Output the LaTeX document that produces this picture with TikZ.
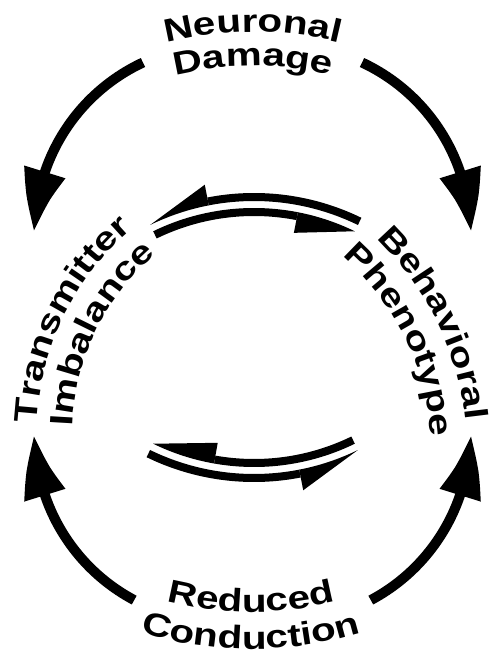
\documentclass[tikz,border=0pt]{standalone}
\usepackage{fontspec}
\newfontfamily\labelfont[FakeStretch=1.25]{Liberation Sans}
\newcommand\lbl{\labelfont\bfseries\fontsize{23}{27}\selectfont}
\usetikzlibrary{decorations.text,arrows.meta,bending}

\begin{document}
\begin{tikzpicture}[x=0.025cm,y=0.025cm,
  curved/.style={decorate,decoration={text along path,text={|\lbl|#1},text align=center}},
  bigarrow/.style={line width=0.25cm,-{Triangle[length=1.55cm,width=1cm,bend]}},
  pairline/.style={line width=0.2cm}]
\useasboundingbox (0,0) rectangle (490,654);
% centres of the text arcs
\coordinate (top) at (253,262);
\coordinate (bottom) at (251,380);
\coordinate (left) at (308,219);
\coordinate (right) at (172,203);
% labels
\path[curved=Neuronal] (top) ++(130:360) arc[start angle=130,end angle=50,radius=360];
\path[curved=Damage] (top) ++(130:326) arc[start angle=130,end angle=50,radius=326];
\path[curved=Transmitter] (left) ++(194:271) arc[start angle=194,end angle=114,radius=271];
\path[curved=Imbalance] (left) ++(194:236) arc[start angle=194,end angle=114,radius=236];
\path[curved=Behavioral] (right) ++(66:295) arc[start angle=66,end angle=-14,radius=295];
\path[curved=Phenotype] (right) ++(66:259) arc[start angle=66,end angle=-14,radius=259];
\path[curved=Reduced] (bottom) ++(230:338) arc[start angle=230,end angle=310,radius=338];
\path[curved=Conduction] (bottom) ++(230:375) arc[start angle=230,end angle=310,radius=375];
% outer arrows
\coordinate (ul) at (222,422);
\coordinate (ur) at (283,422);
\coordinate (ll) at (222,219);
\coordinate (lr) at (283,219);
\draw[bigarrow] (ul) ++(115:187) arc[start angle=115,end angle=180,radius=187];
\draw[bigarrow] (ur) ++(65:187) arc[start angle=65,end angle=0,radius=187];
\draw[bigarrow] (ll) ++(242:187) arc[start angle=242,end angle=180,radius=187];
\draw[bigarrow] (lr) ++(298:187) arc[start angle=298,end angle=360,radius=187];
% upper pair of half arrows
\begin{scope}[shift={(254,216)}]
  \draw[pairline] (64:241) arc[start angle=64,end angle=101,radius=241];
  \fill (101:237) arc[start angle=101,end angle=116,radius=237] -- (101:258) -- cycle;
  \draw[pairline] (116:226) arc[start angle=116,end angle=79,radius=226];
  \fill (79:230) arc[start angle=79,end angle=64,radius=230] -- (79:209) -- cycle;
\end{scope}
% lower pair of half arrows
\begin{scope}[shift={(254,417)}]
  \draw[pairline] (296:226) arc[start angle=296,end angle=260,radius=226];
  \fill (260:230) arc[start angle=260,end angle=244,radius=230] -- (260:209) -- cycle;
  \draw[pairline] (244:241) arc[start angle=244,end angle=281,radius=241];
  \fill (281:237) arc[start angle=281,end angle=296,radius=237] -- (281:258) -- cycle;
\end{scope}
\end{tikzpicture}
\end{document}
